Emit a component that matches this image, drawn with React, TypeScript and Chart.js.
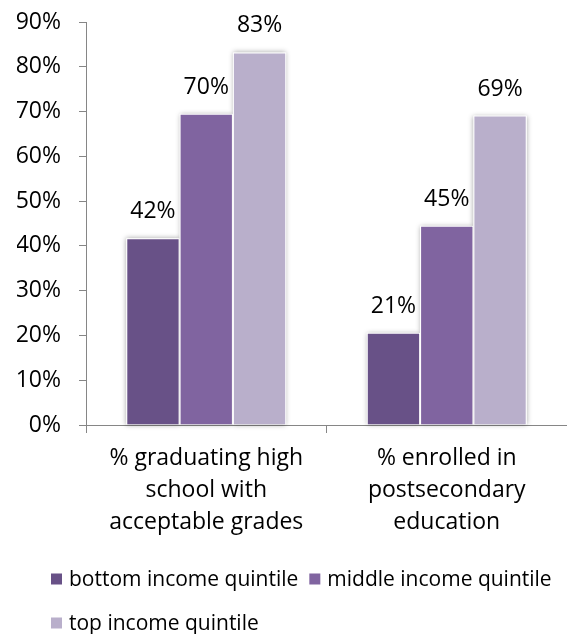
import React, { useEffect, useRef } from 'react';
import { Chart, registerables } from 'chart.js';

Chart.register(...registerables);

const categories = [
  ['% graduating high', 'school with', 'acceptable grades'],
  ['% enrolled in', 'postsecondary', 'education'],
];
const seriesNames = ['bottom income quintile', 'middle income quintile', 'top income quintile'];
const bottomQuintile = [41.7, 20.6];
const middleQuintile = [69.5, 44.5];
const topQuintile = [83.2, 69.1];
const seriesColors = ['#685187', '#8064a0', '#b9afcb'];
const yMax = 90;
const yStep = 10;

const FONT = '"Open Sans", "DejaVu Sans", sans-serif';

const shadowPlugin = {
  id: 'barShadow',
  beforeDatasetsDraw(chart: any) {
    const ctx = chart.ctx;
    ctx.save();
    ctx.shadowColor = 'rgba(0,0,0,0.35)';
    ctx.shadowBlur = 5;
    ctx.shadowOffsetX = 0;
    ctx.shadowOffsetY = 0;
    ctx.fillStyle = '#ffffff';
    chart.data.datasets.forEach((_ds: any, i: number) => {
      const meta = chart.getDatasetMeta(i);
      meta.data.forEach((bar: any) => {
        const p = bar.getProps(['x', 'y', 'base', 'width'], true);
        ctx.fillRect(p.x - p.width / 2, p.y, p.width, p.base - p.y);
      });
    });
    ctx.restore();
  },
};

const valueLabelPlugin = {
  id: 'valueLabels',
  afterDatasetsDraw(chart: any) {
    const ctx = chart.ctx;
    ctx.save();
    ctx.font = `23px ${FONT}`;
    ctx.fillStyle = '#000000';
    ctx.textAlign = 'center';
    ctx.textBaseline = 'alphabetic';
    chart.data.datasets.forEach((ds: any, i: number) => {
      const meta = chart.getDatasetMeta(i);
      meta.data.forEach((bar: any, j: number) => {
        ctx.fillText(Math.round(ds.data[j]) + '%', bar.x, bar.y - 20);
      });
    });
    ctx.restore();
  },
};

const legendPlugin = {
  id: 'customLegend',
  afterDraw(chart: any) {
    const ctx = chart.ctx;
    ctx.save();
    ctx.font = `21px ${FONT}`;
    ctx.textBaseline = 'middle';
    ctx.textAlign = 'left';
    const startX = 51;
    const box = 11;
    const textGap = 7;
    const itemGap = 11;
    const rowGap = 44;
    const maxRight = chart.width - 10;
    let x = startX;
    let y = chart.height - 55;
    chart.data.datasets.forEach((ds: any) => {
      const w = box + textGap + ctx.measureText(ds.label).width;
      if (x !== startX && x + w > maxRight) {
        x = startX;
        y += rowGap;
      }
      ctx.fillStyle = ds.backgroundColor;
      ctx.fillRect(x, y - box / 2, box, box);
      ctx.fillStyle = '#000000';
      ctx.fillText(ds.label, x + box + textGap, y + 1);
      x += w + itemGap;
    });
    ctx.restore();
  },
};

export default function App() {
  const ref = useRef<HTMLCanvasElement>(null);

  useEffect(() => {
    if (!ref.current) return;
    const chart = new Chart(ref.current, {
      type: 'bar',
      data: {
        labels: categories,
        datasets: [
          { label: seriesNames[0], data: bottomQuintile, backgroundColor: seriesColors[0] },
          { label: seriesNames[1], data: middleQuintile, backgroundColor: seriesColors[1] },
          { label: seriesNames[2], data: topQuintile, backgroundColor: seriesColors[2] },
        ].map((d) => ({
          ...d,
          borderColor: '#ffffff',
          borderWidth: 1,
          categoryPercentage: 0.665,
          barPercentage: 1,
        })),
      },
      options: {
        responsive: false,
        animation: false,
        layout: { padding: { left: 17, right: 0, top: 22, bottom: 87 } },
        plugins: {
          legend: { display: false },
          tooltip: { enabled: false },
        },
        scales: {
          x: {
            grid: { drawOnChartArea: false, tickLength: 8, color: '#868686', offset: true },
            border: { color: '#868686', width: 1 },
            afterFit: (scale: any) => {
              scale.paddingLeft = 0;
              scale.paddingRight = 0;
            },
            ticks: {
              color: '#000000',
              padding: 9,
              maxRotation: 0,
              autoSkip: false,
              font: { family: FONT, size: 23, lineHeight: 32 / 23 },
            },
          },
          y: {
            min: 0,
            max: yMax,
            grid: { drawOnChartArea: false, tickLength: 7, color: '#868686' },
            border: { color: '#868686', width: 1 },
            afterFit: (scale: any) => {
              scale.paddingTop = 0;
              scale.paddingBottom = 0;
              scale.width = 69;
            },
            ticks: {
              stepSize: yStep,
              color: '#000000',
              padding: 18,
              font: { family: FONT, size: 23 },
              callback: (v: any) => v + '%',
            },
          },
        },
      },
      plugins: [shadowPlugin, valueLabelPlugin, legendPlugin],
    });
    return () => chart.destroy();
  }, []);

  return (
    <div style={{ position: 'fixed', left: 0, top: 0, width: 567, height: 634, background: '#ffffff' }}>
      <canvas ref={ref} width={567} height={634} style={{ display: 'block' }} />
    </div>
  );
}
